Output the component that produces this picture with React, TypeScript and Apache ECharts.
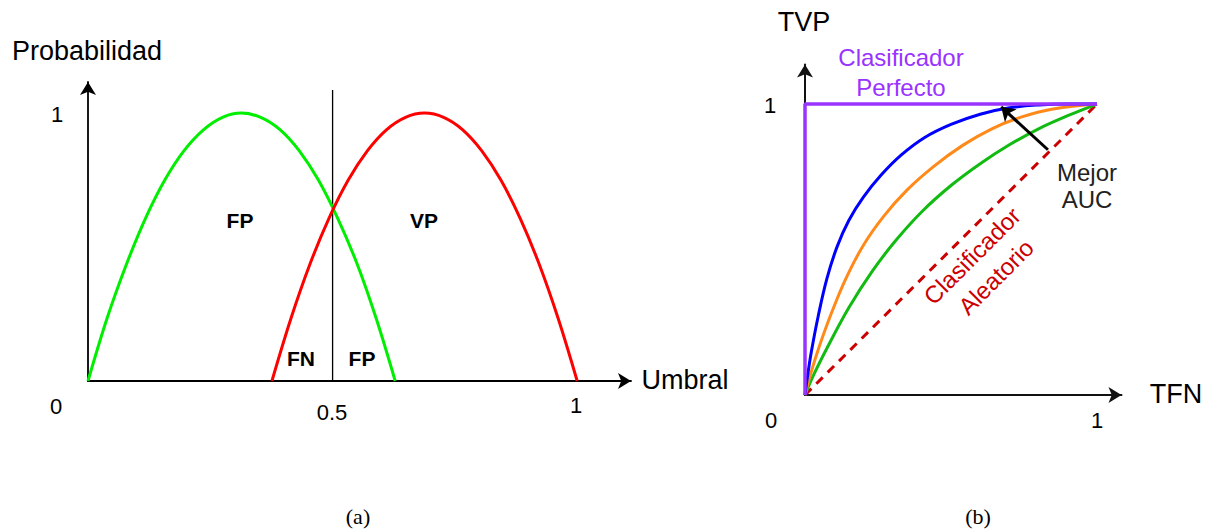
import React, { useEffect, useRef } from "react";
import * as echarts from "echarts";

// ---- Panel (a): class probability curves vs. threshold ----
const negativeClass: [number, number][] = [
  [0, 0], [0.039, 0.234], [0.079, 0.4375], [0.118, 0.609], [0.157, 0.75], [0.196, 0.859],
  [0.236, 0.9375], [0.275, 0.984], [0.314, 1], [0.353, 0.984], [0.393, 0.9375],
  [0.432, 0.859], [0.471, 0.75], [0.51, 0.609], [0.55, 0.4375], [0.589, 0.234], [0.628, 0],
];
const positiveClass: [number, number][] = [
  [0.376, 0], [0.415, 0.234], [0.454, 0.4375], [0.493, 0.609], [0.532, 0.75], [0.571, 0.859],
  [0.61, 0.9375], [0.649, 0.984], [0.688, 1], [0.727, 0.984], [0.766, 0.9375],
  [0.805, 0.859], [0.844, 0.75], [0.883, 0.609], [0.922, 0.4375], [0.961, 0.234], [1, 0],
];
const thresholdLine: [number, number][] = [[0.5, 0], [0.5, 1.086]];
const regionLabels = ["FP", "VP", "FN", "FP"];
const ticksA = ["0", "0.5", "1", "1"];

// ---- Panel (b): ROC curves ----
const rocBlue: [number, number][] = [
  [0, 0], [0.008, 0.06], [0.022, 0.15], [0.045, 0.27], [0.075, 0.4], [0.11, 0.51],
  [0.15, 0.6], [0.2, 0.68], [0.26, 0.755], [0.33, 0.825], [0.41, 0.885], [0.5, 0.93],
  [0.6, 0.965], [0.7, 0.987], [0.8, 0.997], [0.9, 1], [1, 1],
];
const rocOrange: [number, number][] = [
  [0, 0], [0.02, 0.075], [0.05, 0.17], [0.09, 0.28], [0.14, 0.4], [0.2, 0.515],
  [0.27, 0.615], [0.35, 0.705], [0.44, 0.785], [0.54, 0.858], [0.64, 0.915],
  [0.74, 0.955], [0.85, 0.983], [1, 1],
];
const rocGreen: [number, number][] = [
  [0, 0], [0.03, 0.07], [0.08, 0.17], [0.15, 0.3], [0.23, 0.425], [0.31, 0.53],
  [0.4, 0.63], [0.5, 0.72], [0.6, 0.795], [0.7, 0.86], [0.8, 0.915], [0.9, 0.96], [1, 1],
];
const perfectClassifier: [number, number][] = [[0, 0], [0, 1], [1, 1]];
const randomClassifier: [number, number][] = [[0, 0], [1, 1]];
const betterAucArrow: [number, number][] = [[0.832, 0.843], [0.672, 0.99]];
const ticksB = ["1", "0", "1"];

const SANS = "'Liberation Sans', Arial, Helvetica, sans-serif";
const SERIF = "'Liberation Serif', 'Times New Roman', serif";

function txt(text: string, x: number, y: number, size: number, fill = "#000", weight = "normal", family = SANS, extra: any = {}) {
  return {
    type: "text",
    x,
    y,
    ...extra,
    style: {
      text,
      x: 0,
      y: 0,
      fill,
      font: `${weight} ${size}px ${family}`,
      align: "center",
      verticalAlign: "middle",
      textAlign: "center",
      textVerticalAlign: "middle",
    },
  };
}

const axisCommon = {
  type: "value" as const,
  splitLine: { show: false },
  axisTick: { show: false },
  axisLabel: { show: false },
};

export default function App() {
  const ref = useRef<HTMLDivElement>(null);
  useEffect(() => {
    if (!ref.current) return;
    const chart = echarts.init(ref.current, null, { renderer: "svg" });
    const axisLineA = {
      show: true,
      symbol: ["none", "arrow"],
      symbolSize: [12, 13],
      lineStyle: { color: "#000", width: 1.8 },
    };
    const axisLineB = {
      show: true,
      symbol: ["none", "arrow"],
      symbolSize: [12, 13],
      lineStyle: { color: "#111", width: 2 },
    };
    const curve = (data: [number, number][], color: string, xi: number, smooth = 0.35) => ({
      type: "line", xAxisIndex: xi, yAxisIndex: xi, data, smooth,
      showSymbol: false, lineStyle: { color, width: 3 },
    });
    chart.setOption({
      animation: false,
      backgroundColor: "#fff",
      grid: [
        { left: 88, top: 82, width: 543, height: 299 },
        { left: 805, top: 64.5, width: 316.5, height: 330.5 },
      ],
      xAxis: [
        { ...axisCommon, gridIndex: 0, min: 0, max: 1.11, axisLine: axisLineA },
        { ...axisCommon, gridIndex: 1, min: 0, max: 1.084, axisLine: axisLineB },
      ],
      yAxis: [
        { ...axisCommon, gridIndex: 0, min: 0, max: 1.116, axisLine: axisLineA },
        { ...axisCommon, gridIndex: 1, min: 0, max: 1.136, axisLine: axisLineB },
      ],
      series: [
        {
          type: "line", xAxisIndex: 0, yAxisIndex: 0, data: thresholdLine,
          showSymbol: false, lineStyle: { color: "#000", width: 1.3 },
        },
        curve(negativeClass, "#00ee00", 0),
        curve(positiveClass, "#ff0000", 0),
        {
          type: "line", xAxisIndex: 1, yAxisIndex: 1, data: randomClassifier,
          showSymbol: false, lineStyle: { color: "#cc0000", width: 3, type: [9, 7] },
        },
        curve(rocGreen, "#11bb11", 1, 0.4),
        curve(rocOrange, "#ff8a1a", 1, 0.4),
        curve(rocBlue, "#0000ff", 1, 0.4),
        {
          type: "line", xAxisIndex: 1, yAxisIndex: 1, data: perfectClassifier,
          showSymbol: false, lineStyle: { color: "#9933ff", width: 3.5 },
        },
        {
          type: "lines", coordinateSystem: "cartesian2d", xAxisIndex: 1, yAxisIndex: 1,
          symbol: ["none", "arrow"], symbolSize: 13,
          lineStyle: { color: "#000", width: 3, opacity: 1 },
          data: [{ coords: betterAucArrow }],
          z: 5,
        },
      ],
      graphic: [
        // panel (a)
        txt("Probabilidad", 87, 51, 27),
        txt("Umbral", 685, 380, 27),
        txt(ticksA[3], 57, 114, 22),
        txt(ticksA[0], 56, 406, 22),
        txt(ticksA[1], 332, 412, 22),
        txt(ticksA[2], 576, 405, 22),
        txt(regionLabels[0], 240, 220, 21, "#000", "bold"),
        txt(regionLabels[1], 424, 220, 21, "#000", "bold"),
        txt(regionLabels[2], 301, 358, 21, "#000", "bold"),
        txt(regionLabels[3], 362, 358, 21, "#000", "bold"),
        txt("(a)", 358, 516, 22, "#000", "normal", SERIF),
        // panel (b)
        txt("TVP", 804, 22, 27),
        txt("TFN", 1176, 394, 27),
        txt(ticksB[0], 770, 105, 22),
        txt(ticksB[1], 771, 420, 22),
        txt(ticksB[2], 1097, 420, 22),
        txt("Clasificador", 901, 57, 24, "#9933ff"),
        txt("Perfecto", 901, 87, 24, "#9933ff"),
        txt("Mejor", 1087, 172, 24, "#222"),
        txt("AUC", 1087, 199, 24, "#222"),
        txt("Clasificador", 972, 256, 24, "#cc0000", "normal", SANS, { rotation: Math.PI / 4 }),
        txt("Aleatorio", 996, 277, 24, "#cc0000", "normal", SANS, { rotation: Math.PI / 4 }),
        txt("(b)", 978, 516, 22, "#000", "normal", SERIF),
      ],
    });
    return () => chart.dispose();
  }, []);
  return (
    <div
      ref={ref}
      style={{ position: "fixed", left: 0, top: 0, width: 1210, height: 529, background: "#fff" }}
    />
  );
}
